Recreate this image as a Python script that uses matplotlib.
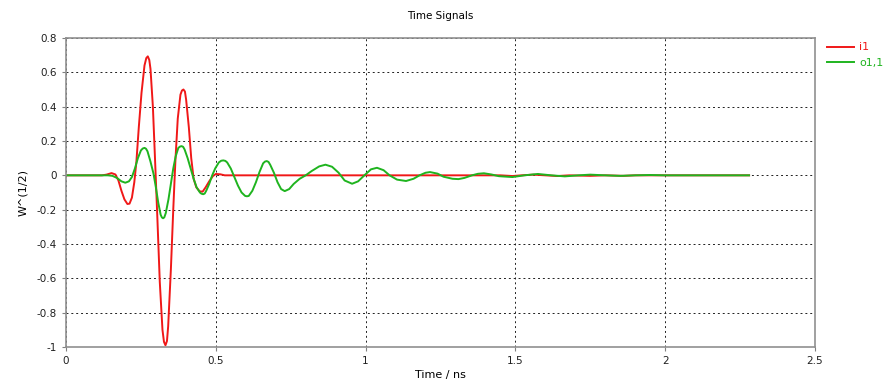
import matplotlib
matplotlib.use("Agg")
from matplotlib import pyplot as plt
from matplotlib.ticker import FuncFormatter

# values (time in ns, amplitude in W^(1/2))
t_i1 = [0.00, 0.12, 0.135, 0.152, 0.165, 0.175, 0.185, 0.195, 0.205, 0.212,
        0.220, 0.228, 0.235, 0.243, 0.252, 0.262, 0.268, 0.273, 0.278, 0.282,
        0.290, 0.297, 0.305, 0.313, 0.322, 0.327, 0.332, 0.337, 0.341, 0.350,
        0.358, 0.365, 0.373, 0.382, 0.387, 0.392, 0.397, 0.401, 0.410, 0.418,
        0.426, 0.435, 0.446, 0.456, 0.466, 0.478, 0.490, 0.500, 0.515, 0.530,
        1.45, 1.49, 1.52, 1.56, 1.60, 1.64, 1.68, 1.75, 1.80, 1.86, 1.90,
        2.00, 2.28]
v_i1 = [0.0, 0.0, 0.004, 0.013, 0.005, -0.03, -0.09, -0.14, -0.167, -0.165,
        -0.13, -0.04, 0.08, 0.28, 0.48, 0.64, 0.683, 0.693, 0.672, 0.62,
        0.40, 0.10, -0.25, -0.62, -0.90, -0.97, -0.99, -0.965, -0.88, -0.55,
        -0.20, 0.08, 0.33, 0.47, 0.494, 0.50, 0.488, 0.44, 0.28, 0.10,
        -0.02, -0.07, -0.093, -0.095, -0.07, -0.035, -0.005, 0.008, 0.006, 0.0,
        0.0, -0.004, 0.0, 0.004, 0.0, -0.004, 0.0, -0.003, 0.0, -0.003, 0.0,
        0.0, 0.0]

t_o11 = [0.00, 0.14, 0.155, 0.17, 0.185, 0.198, 0.210, 0.220, 0.230, 0.240,
         0.250, 0.256, 0.262, 0.267, 0.272, 0.282, 0.292, 0.300, 0.308, 0.316,
         0.320, 0.324, 0.328, 0.333, 0.342, 0.350, 0.358, 0.366, 0.375, 0.381,
         0.386, 0.391, 0.396, 0.406, 0.416, 0.426, 0.436, 0.447, 0.452, 0.458,
         0.463, 0.468, 0.478, 0.488, 0.498, 0.510, 0.518, 0.525, 0.532, 0.538,
         0.550, 0.562, 0.574, 0.586, 0.598, 0.604, 0.610, 0.622, 0.634, 0.646,
         0.658, 0.664, 0.670, 0.676, 0.682, 0.694, 0.706, 0.718, 0.730, 0.745,
         0.760, 0.780, 0.800, 0.820, 0.845, 0.866, 0.888, 0.910, 0.930, 0.955,
         0.975, 0.996, 1.018, 1.038, 1.060, 1.080, 1.105, 1.135, 1.160, 1.180,
         1.200, 1.215, 1.240, 1.260, 1.290, 1.310, 1.330, 1.355, 1.375, 1.395,
         1.420, 1.445, 1.490, 1.530, 1.575, 1.620, 1.665, 1.710, 1.750, 1.800,
         1.850, 1.900, 1.950, 2.000, 2.280]
v_o11 = [0.0, 0.0, -0.003, -0.015, -0.035, -0.043, -0.035, -0.01, 0.04, 0.10,
         0.145, 0.156, 0.16, 0.155, 0.14, 0.08, 0.01, -0.07, -0.16, -0.23,
         -0.245, -0.25, -0.245, -0.22, -0.14, -0.05, 0.04, 0.11, 0.16, 0.168,
         0.17, 0.166, 0.15, 0.10, 0.04, -0.02, -0.07, -0.10, -0.107, -0.11,
         -0.106, -0.09, -0.05, 0.0, 0.04, 0.075, 0.085, 0.087, 0.084, 0.075,
         0.04, -0.01, -0.06, -0.10, -0.12, -0.122, -0.12, -0.09, -0.04, 0.02,
         0.07, 0.08, 0.083, 0.078, 0.06, 0.015, -0.04, -0.08, -0.092, -0.08,
         -0.05, -0.02, 0.0, 0.025, 0.052, 0.062, 0.05, 0.015, -0.03, -0.049,
         -0.035, 0.0, 0.035, 0.044, 0.03, 0.0, -0.025, -0.033, -0.02, 0.0,
         0.015, 0.019, 0.01, -0.008, -0.02, -0.022, -0.015, 0.0, 0.009, 0.012,
         0.005, -0.005, -0.01, 0.0, 0.008, 0.0, -0.006, 0.0, 0.004, 0.0,
         -0.003, 0.0, 0.002, 0.0, 0.0]

plt.rcParams['axes.unicode_minus'] = False
plt.rcParams['font.family'] = ['DejaVu Sans']

fig = plt.figure(figsize=(8.88, 3.92), dpi=100)
ax = fig.add_axes([66 / 888, 1 - 347 / 392, (815 - 66) / 888, (347 - 38) / 392])

ax.plot(t_i1, v_i1, color='#f01818', lw=1.4, label='i1')
ax.plot(t_o11, v_o11, color='#1fb41f', lw=1.4, label='o1,1')

ax.set_xlim(0, 2.5)
ax.set_ylim(-1, 0.8)
ax.set_xticks([0, 0.5, 1, 1.5, 2, 2.5])
ax.set_yticks([-1, -0.8, -0.6, -0.4, -0.2, 0, 0.2, 0.4, 0.6, 0.8])
fmt = FuncFormatter(lambda v, p: '%g' % round(v, 2))
ax.xaxis.set_major_formatter(fmt)
ax.yaxis.set_major_formatter(fmt)
ax.tick_params(labelsize=7.5, length=3, color='#808080', colors='#202020')
ax.grid(True, color='#202020', linestyle=(0, (2, 3)), lw=0.7)

for s in ax.spines.values():
    s.set_color('#909090')
    s.set_linewidth(1.2)

ax.set_title('Time Signals', fontsize=7.5, pad=14)
ax.set_xlabel('Time / ns', fontsize=8, labelpad=3)
ax.set_ylabel('W^(1/2)', fontsize=8, labelpad=6)

ax.legend(loc='upper left', bbox_to_anchor=(1.01, 1.0), frameon=False,
          fontsize=8, labelcolor='linecolor', handlelength=2.4,
          handletextpad=0.5, borderaxespad=0.0)

fig.savefig('out.png', dpi=100)
